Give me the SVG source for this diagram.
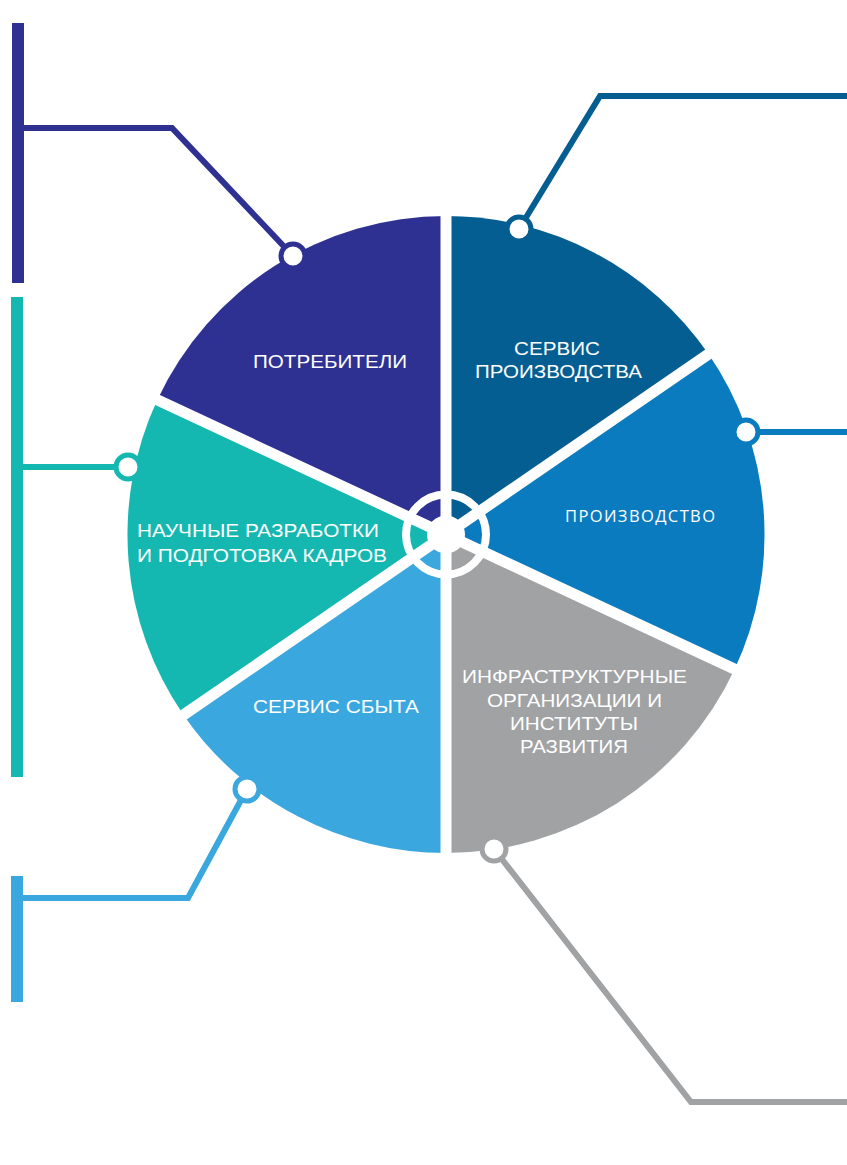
<svg xmlns="http://www.w3.org/2000/svg" width="847" height="1165" viewBox="0 0 847 1165">
<style>
.lbl{font-family:"Liberation Sans",Arial,sans-serif;font-size:19px;fill:#ffffff}
.lbl2{font-family:"Open Sans","Liberation Sans",sans-serif;font-size:16.5px;fill:#ffffff}
.spoke{stroke:#ffffff;stroke-width:11;stroke-linecap:butt}
.conn{fill:none;stroke-width:6;stroke-linejoin:miter}
.dot{fill:#ffffff;stroke-width:5}
</style>
<rect width="847" height="1165" fill="#ffffff"/>
<g id="node-potrebiteli">
<path d="M446,534.5 L446,216 A318.5,318.5 0 0 0 157.3,399.9 Z" fill="#2e3192"/>
<text class="lbl" x="253" y="368" textLength="154" lengthAdjust="spacingAndGlyphs">ПОТРЕБИТЕЛИ</text>
</g>
<g id="node-nauchnye">
<path d="M446,534.5 L157.3,399.9 A318.5,318.5 0 0 0 183.5,714.9 Z" fill="#15b8b1"/>
<text class="lbl" x="137" y="537" textLength="242" lengthAdjust="spacingAndGlyphs">НАУЧНЫЕ РАЗРАБОТКИ</text>
<text class="lbl" x="137" y="562" textLength="250" lengthAdjust="spacingAndGlyphs">И ПОДГОТОВКА КАДРОВ</text>
</g>
<g id="node-servis-sbyta">
<path d="M446,534.5 L183.5,714.9 A318.5,318.5 0 0 0 446,853 Z" fill="#3aa7df"/>
<text class="lbl" x="253" y="713" textLength="166" lengthAdjust="spacingAndGlyphs">СЕРВИС СБЫТА</text>
</g>
<g id="node-infrastruktura">
<path d="M446,534.5 L446,853 A318.5,318.5 0 0 0 734.7,669.1 Z" fill="#a0a2a4"/>
<text class="lbl" x="462" y="683" textLength="225" lengthAdjust="spacingAndGlyphs">ИНФРАСТРУКТУРНЫЕ</text>
<text class="lbl" x="487" y="707" textLength="175" lengthAdjust="spacingAndGlyphs">ОРГАНИЗАЦИИ И</text>
<text class="lbl" x="510" y="730" textLength="128" lengthAdjust="spacingAndGlyphs">ИНСТИТУТЫ</text>
<text class="lbl" x="520" y="753" textLength="108" lengthAdjust="spacingAndGlyphs">РАЗВИТИЯ</text>
</g>
<g id="node-proizvodstvo">
<path d="M446,534.5 L734.7,669.1 A318.5,318.5 0 0 0 708.5,354.1 Z" fill="#0b7bbf"/>
<text class="lbl2" x="565" y="521.5" textLength="150">ПРОИЗВОДСТВО</text>
</g>
<g id="node-servis-proizvodstva">
<path d="M446,534.5 L708.5,354.1 A318.5,318.5 0 0 0 446,216 Z" fill="#055e91"/>
<text class="lbl" x="514" y="355" textLength="86" lengthAdjust="spacingAndGlyphs">СЕРВИС</text>
<text class="lbl" x="475" y="378" textLength="167" lengthAdjust="spacingAndGlyphs">ПРОИЗВОДСТВА</text>
</g>
<g id="hub">
<line class="spoke" x1="446" y1="534.5" x2="446" y2="204"/>
<line class="spoke" x1="446" y1="534.5" x2="717.9" y2="347.6"/>
<line class="spoke" x1="446" y1="534.5" x2="745.1" y2="674"/>
<line class="spoke" x1="446" y1="534.5" x2="446" y2="865"/>
<line class="spoke" x1="446" y1="534.5" x2="174.1" y2="721.4"/>
<line class="spoke" x1="446" y1="534.5" x2="146.9" y2="395"/>
<circle cx="446" cy="534.5" r="40" fill="none" stroke="#ffffff" stroke-width="8"/>
<circle cx="446" cy="534.5" r="19" fill="#ffffff"/>
</g>
<g id="connectors">
<rect x="12" y="23" width="12" height="260" fill="#2e3192"/>
<path class="conn" stroke="#2e3192" d="M24,128 L172,128 L293,256"/>
<circle class="dot" stroke="#2e3192" cx="293" cy="256" r="12"/>
<rect x="11" y="297" width="12" height="480" fill="#15b8b1"/>
<path class="conn" stroke="#15b8b1" d="M23,467 L128,467"/>
<circle class="dot" stroke="#15b8b1" cx="128" cy="467" r="12"/>
<rect x="11" y="876" width="12" height="126" fill="#3aa7df"/>
<path class="conn" stroke="#3aa7df" d="M23,898 L188,898 L247,789"/>
<circle class="dot" stroke="#3aa7df" cx="247" cy="789" r="12"/>
<path class="conn" stroke="#055e91" d="M847,96 L600,96 L519,229"/>
<circle class="dot" stroke="#055e91" cx="519" cy="229" r="12"/>
<path class="conn" stroke="#0b7bbf" d="M847,432 L746,432"/>
<circle class="dot" stroke="#0b7bbf" cx="746" cy="432" r="12"/>
<path class="conn" stroke="#a0a2a4" d="M847,1102 L691,1102 L494,849"/>
<circle class="dot" stroke="#a0a2a4" cx="494" cy="849" r="12"/>
</g>
</svg>
